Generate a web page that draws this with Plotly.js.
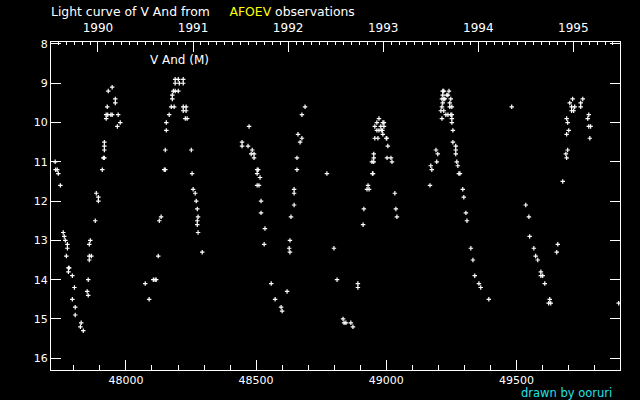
<!DOCTYPE html>
<html>
<head>
<meta charset="utf-8">
<script src="https://cdn.plot.ly/plotly-3.0.1.min.js"></script>
<style>html,body{margin:0;padding:0;background:#000;}#chart{width:640px;height:400px;}</style>
</head>
<body>
<div id="chart"></div>
<script>
// Julian Day - 2400000 of each observation
const jd = [
47728,47730,47736,47740,47748,47759,47763,47767,47775,47775,47771,47779,47782,47779,47794,47802,47794,47805,47805,47828,47825,47836,
47855,47851,47855,47859,47867,47859,47859,47863,47882,47886,47894,47894,47909,47913,47917,47917,47917,47917,47924,47924,47930,47942,47947,47970,47978,47967,47928,47932,47947,47959,47959,
48074,48089,48105,48112,48116,48124,48128,48135,48147,48151,48151,48155,48155,48166,48174,48185,48178,48178,48182,48189,48201,48189,48205,48220,48189,48201,48220,48220,48231,48220,48231,48228,48235,
48251,48254,48258,48266,48270,48274,48277,48274,48274,48277,48293,
48473,48446,48446,48469,48485,48481,48492,48492,48504,48508,48504,48515,48504,48511,48519,48519,48534,48531,48558,48573,48596,48600,
48619,48630,48627,48630,48634,48646,48646,48646,48657,48657,48669,48676,48661,48676,48688,
48772,48799,48811,48834,48838,48845,48864,48872,48891,48891,48911,48914,48930,48926,48934,48947,48949,48945,48952,48952,48952,48956,48968,
49006,49000,49002,48987,48964,48972,48981,48985,48956,48979,48991,48964,48987,48991,48972,49003,49018,49022,49033,49037,49041,
49168,49171,49175,49191,49198,49194,49214,49210,49221,49214,49217,49214,49221,49225,49217,49233,49237,49217,49221,49241,49248,49244,49244,49252,
49229,49237,49248,49252,49252,49252,49256,49256,49267,49267,49267,49271,49275,49279,49283,49294,49298,49306,49310,49325,49333,49340,49356,49363,49394,
49482,
49536,49548,49551,49567,49574,49582,49594,49594,49601,49609,49628,49624,49632,49659,49655,
49678,49693,49690,49697,49693,49701,49697,49693,49705,49716,49712,49724,49712,49720,49747,49755,49747,49778,49774,49778,49785,49782,49893
];
// visual magnitude of each observation
const mag = [
11.0,11.2,11.2,11.3,11.6,12.8,12.9,13.0,13.1,13.2,13.4,13.7,13.7,13.8,13.9,14.2,14.5,14.7,14.9,15.1,15.2,15.3,
14.0,14.3,14.4,13.4,13.4,13.5,13.1,13.0,12.5,11.8,11.9,12.0,11.2,10.9,10.9,10.7,10.6,10.5,9.9,9.8,9.8,9.8,9.8,9.8,10.0,10.1,9.6,9.2,9.1,9.4,9.5,
14.1,14.5,14.0,14.0,14.0,13.4,12.5,12.4,11.2,11.2,10.7,10.2,10.0,9.8,9.6,9.6,9.4,9.3,9.2,9.2,9.2,9.0,9.0,9.0,8.9,8.9,8.9,9.6,9.6,9.7,9.7,9.9,9.9,
10.7,11.3,11.7,11.8,12.0,12.2,12.4,12.5,12.6,12.8,13.3,
10.1,10.5,10.6,10.6,10.7,10.8,10.8,10.9,11.2,11.2,11.3,11.4,11.6,11.6,12.0,12.3,12.7,13.1,14.1,14.5,14.7,14.8,
14.3,13.3,13.2,13.0,12.4,12.1,11.8,11.7,11.2,10.9,10.5,10.4,10.3,9.8,9.6,
11.3,13.2,14.0,15.0,15.1,15.1,15.1,15.2,14.1,14.2,12.6,12.2,11.6,11.7,11.7,11.3,11.3,11.0,11.0,10.9,10.8,10.4,10.4,
10.6,10.4,10.4,10.3,10.2,10.2,10.2,10.2,10.1,10.1,10.1,10.0,10.0,10.0,9.9,10.9,10.9,11.0,11.8,12.2,12.4,
11.6,11.1,11.2,10.7,10.8,11.0,9.9,9.7,9.7,9.6,9.5,9.4,9.4,9.4,9.3,9.3,9.3,9.2,9.2,9.2,9.4,9.5,9.6,9.6,
9.8,9.8,9.8,9.8,9.9,10.0,10.2,10.5,10.6,10.7,10.8,11.0,11.1,11.3,11.3,11.7,11.9,12.3,12.5,13.2,13.5,13.9,14.1,14.2,14.5,
9.6,
12.1,12.4,12.9,13.2,13.4,13.5,13.8,13.9,13.9,14.1,14.5,14.6,14.6,13.1,13.3,
11.5,10.9,10.8,10.7,10.3,10.2,10.0,9.9,9.5,9.4,9.6,9.6,9.7,9.7,9.5,9.4,9.6,9.8,9.9,10.1,10.1,10.4,14.6
];
const yearTicks = [1990, 1991, 1992, 1993, 1994, 1995];
const yearLabels = ['1990', '1991', '1992', '1993', '1994', '1995'];

const JD_1990 = 47892.5;   // JD-2400000 of 1990 Jan 1
const xRange = [47712, 49898];
const toYear = d => 1990 + (d - JD_1990) / 365.25;

const FONT = 'DejaVu Sans, sans-serif';
const NB = '&nbsp;';

const trace = {
  x: jd, y: mag, type: 'scatter', mode: 'markers',
  marker: {symbol: 'cross-thin', size: 3.2, color: '#ffffff', line: {color: '#ffffff', width: 1.2}},
  hoverinfo: 'skip', showlegend: false
};

const layout = {
  width: 640, height: 400,
  paper_bgcolor: '#000000', plot_bgcolor: '#000000',
  margin: {l: 51, r: 20, t: 42, b: 30, pad: 0},
  showlegend: false,
  xaxis: {
    range: xRange, autorange: false,
    showgrid: false, zeroline: false,
    showline: true, linecolor: '#ffffff', linewidth: 1, mirror: false,
    ticks: 'inside', ticklen: 10, tickwidth: 1, tickcolor: '#ffffff',
    tickmode: 'linear', tick0: 0, dtick: 500,
    tickformat: 'd',
    minor: {ticks: 'inside', ticklen: 5, tickcolor: '#ffffff', tickwidth: 1, dtick: 100, tick0: 0, showgrid: false},
    tickfont: {family: FONT, size: 11, color: '#ffffff'}
  },
  xaxis2: {
    overlaying: 'x', side: 'top', anchor: 'y',
    range: xRange.map(toYear), autorange: false,
    showgrid: false, zeroline: false,
    showline: true, linecolor: '#ffffff', linewidth: 1,
    ticks: 'inside', ticklen: 10, tickwidth: 1, tickcolor: '#ffffff',
    tickmode: 'array', tickvals: yearTicks, ticktext: yearLabels,
    ticklabelstandoff: 4,
    minor: {ticks: 'inside', ticklen: 3, tickcolor: '#ffffff', tickwidth: 1, dtick: 1/12, tick0: 1990, showgrid: false},
    tickfont: {family: FONT, size: 12, color: '#ffffff'}
  },
  yaxis: {
    range: [16.30, 7.95], autorange: false,
    showgrid: false, zeroline: false,
    showline: true, linecolor: '#ffffff', linewidth: 1, mirror: 'ticks',
    ticks: 'inside', ticklen: 10, tickwidth: 1, tickcolor: '#ffffff',
    tickmode: 'linear', tick0: 8, dtick: 1,
    tickfont: {family: FONT, size: 11, color: '#ffffff'}
  },
  annotations: [
    {xref: 'paper', yref: 'paper', x: -0.004, y: 1.0915, xanchor: 'left', yanchor: 'middle', showarrow: false,
     text: 'Light curve of V And from' + NB.repeat(5) + '<span style="color:#ffff00">AFOEV</span> observations',
     font: {family: FONT, size: 12.4, color: '#ffffff'}},
    {xref: 'paper', yref: 'paper', x: 0.171, y: 0.945, xanchor: 'left', yanchor: 'middle', showarrow: false,
     text: 'V And (M)', font: {family: FONT, size: 12, color: '#ffffff'}},
    {xref: 'paper', yref: 'paper', x: 0.9895, y: -0.0686, xanchor: 'right', yanchor: 'middle', showarrow: false,
     text: 'drawn by ooruri', font: {family: FONT, size: 11.5, color: '#20e0e8'}}
  ]
};

Plotly.newPlot('chart', [trace, {x: [], y: [], xaxis: 'x2', yaxis: 'y', type: 'scatter', mode: 'markers', showlegend: false}], layout, {staticPlot: true, displayModeBar: false});
</script>
</body>
</html>
